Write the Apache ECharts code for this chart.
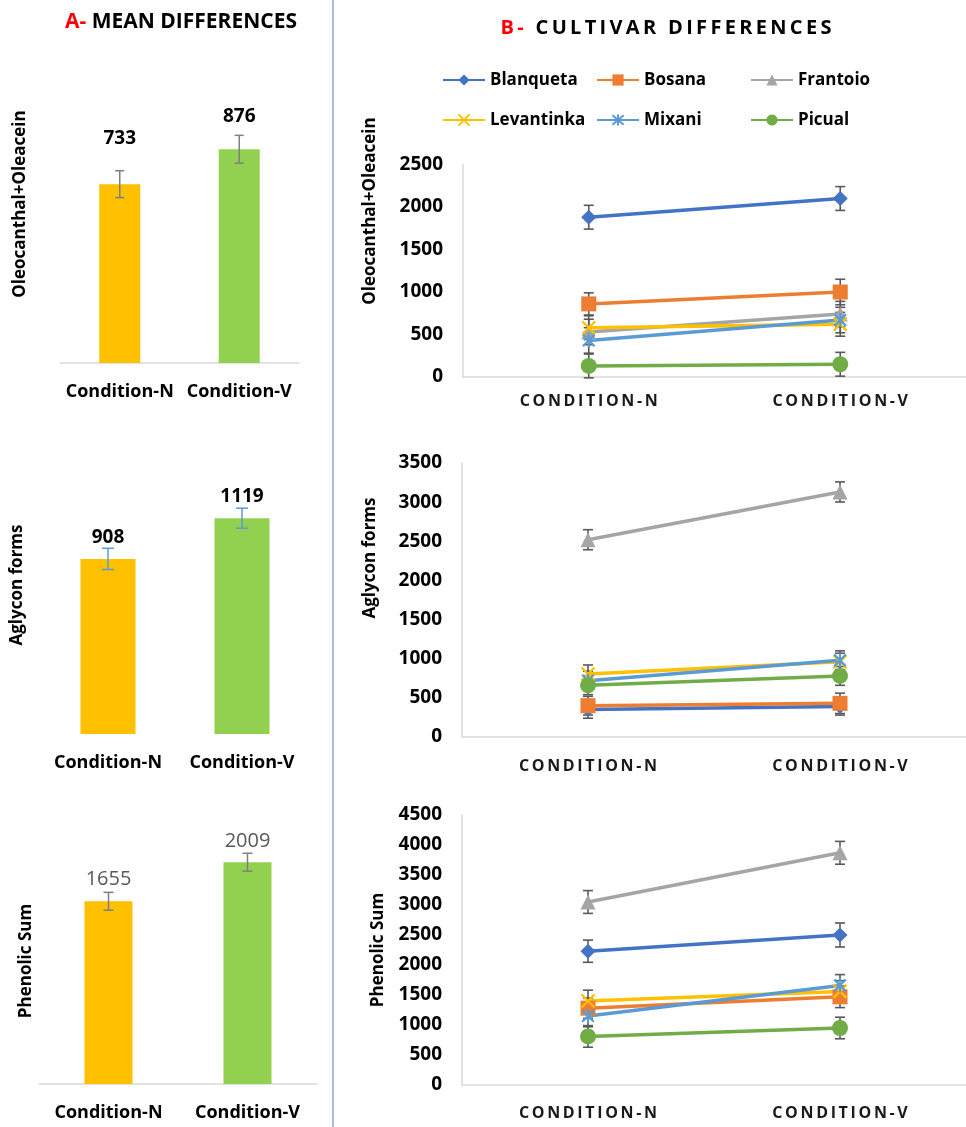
<!DOCTYPE html>
<html>
<head>
<meta charset="utf-8">
<script src="https://cdn.jsdelivr.net/npm/echarts@6/dist/echarts.min.js"></script>
<style>
  html, body { margin: 0; padding: 0; background: #ffffff; }
  #chart { width: 966px; height: 1127px; }
</style>
</head>
<body>
<div id="chart"></div>
<script>
// ---- data ----
const conditions = ['Condition-N', 'Condition-V'];
const cultivars = ['Blanqueta', 'Bosana', 'Frantoio', 'Levantinka', 'Mixani', 'Picual'];
const metricNames = ['Oleocanthal+Oleacein', 'Aglycon forms', 'Phenolic Sum'];

// means over all cultivars, with their error bars
const meanOleo = [733, 876];
const meanOleoErr = [55, 57];
const meanAgly = [908, 1119];
const meanAglyErr = [55, 52];
const meanPhen = [1655, 2009];
const meanPhenErr = [81, 81];

// per cultivar, rows in the order of `cultivars`, columns [N, V]
const oleoByCultivar = [[1880, 2100], [860, 1000], [530, 740], [580, 620], [430, 670], [130, 150]];
const oleoErrByCultivar = [[140, 140], [130, 150], [150, 150], [140, 140], [150, 150], [140, 140]];
const aglyByCultivar = [[350, 390], [400, 430], [2520, 3130], [805, 960], [720, 980], [660, 780]];
const aglyErrByCultivar = [[110, 110], [120, 130], [128, 128], [115, 110], [120, 120], [120, 120]];
const phenByCultivar = [[2230, 2500], [1280, 1470], [3050, 3870], [1400, 1560], [1150, 1660], [810, 950]];
const phenErrByCultivar = [[185, 200], [170, 180], [190, 190], [180, 180], [180, 180], [180, 180]];

// axis ranges of the cultivar panels
const cultivarAxisMax = [2500, 3500, 4500];
const cultivarAxisStep = 500;

// ---- styling ----
const FONT = '"Open Sans", "Noto Sans", sans-serif';
const BAR_COLORS = ['#FFC000', '#92D050'];
const LINE_COLORS = ['#4472C4', '#ED7D31', '#A5A5A5', '#FFC000', '#5B9BD5', '#70AD47'];
const X_PATH = 'path://M0,0L10,10M10,0L0,10';
const STAR_PATH = 'path://M0,0L10,10M10,0L0,10M5,-1L5,11';
const SYMBOLS = [
  { symbol: 'diamond', symbolSize: 15 },
  { symbol: 'rect', symbolSize: 15 },
  { symbol: 'triangle', symbolSize: 15 },
  { symbol: X_PATH, symbolSize: 13, stroke: true },
  { symbol: STAR_PATH, symbolSize: 14, stroke: true },
  { symbol: 'circle', symbolSize: 16 }
];

const spaced = s => s.split('').join('\u2009');

const chart = echarts.init(document.getElementById('chart'), null, { renderer: 'canvas' });

const grids = [
  { left: 60, top: 119, width: 239, height: 244 },
  { left: 41, top: 464, width: 268, height: 270 },
  { left: 39, top: 808, width: 278, height: 276 },
  { left: 463, top: 164.5, width: 512, height: 212.5 },
  { left: 462, top: 463, width: 512, height: 274 },
  { left: 462, top: 815, width: 512, height: 270 }
];

const meanSets = [
  { values: meanOleo, errs: meanOleoErr, max: 1000, barWidth: 41, showLine: true,
    errColor: '#7F7F7F', cap: 4.5, labelGap: [36, 23],
    label: { fontSize: 19, fontWeight: 'bold', color: '#000' } },
  { values: meanAgly, errs: meanAglyErr, max: 1400, barWidth: 55, showLine: false,
    errColor: '#5B9BD5', cap: 6, labelGap: [12, 12],
    label: { fontSize: 19, fontWeight: 'bold', color: '#000' } },
  { values: meanPhen, errs: meanPhenErr, max: 2500, barWidth: 48, showLine: true,
    errColor: '#7F7F7F', cap: 5, labelGap: [12, 11],
    label: { fontSize: 20, fontWeight: 'normal', color: '#595959' } }
];

const cultivarSets = [
  { values: oleoByCultivar, errs: oleoErrByCultivar, labelMargin: 16 },
  { values: aglyByCultivar, errs: aglyErrByCultivar, labelMargin: 21 },
  { values: phenByCultivar, errs: phenErrByCultivar, labelMargin: 20 }
];

function errorBars(axisIndex, values, errs, color, capHalf, width, z) {
  return {
    type: 'custom',
    xAxisIndex: axisIndex,
    yAxisIndex: axisIndex,
    silent: true,
    z: z,
    data: values.map((v, i) => [i, v - errs[i], v + errs[i]]),
    encode: { x: 0, y: [1, 2] },
    renderItem(params, api) {
      const i = api.value(0);
      const lo = api.coord([i, api.value(1)]);
      const hi = api.coord([i, api.value(2)]);
      const st = { stroke: color, lineWidth: width };
      return {
        type: 'group',
        children: [
          { type: 'line', shape: { x1: lo[0], y1: lo[1], x2: hi[0], y2: hi[1] }, style: st },
          { type: 'line', shape: { x1: lo[0] - capHalf, y1: lo[1], x2: lo[0] + capHalf, y2: lo[1] }, style: st },
          { type: 'line', shape: { x1: hi[0] - capHalf, y1: hi[1], x2: hi[0] + capHalf, y2: hi[1] }, style: st }
        ]
      };
    }
  };
}

const xAxes = [];
const yAxes = [];
const series = [];

// left column: mean bars
meanSets.forEach((m, k) => {
  xAxes.push({
    type: 'category', gridIndex: k, data: conditions,
    axisLine: { show: m.showLine, lineStyle: { color: '#D9D9D9', width: 1.5 } },
    axisTick: { show: false },
    axisLabel: {
      interval: 0, hideOverlap: false, margin: 20,
      fontFamily: FONT, fontSize: 18, fontWeight: 'bold', color: '#000'
    }
  });
  yAxes.push({ type: 'value', gridIndex: k, min: 0, max: m.max, show: false, splitLine: { show: false } });
  series.push({
    type: 'bar', xAxisIndex: k, yAxisIndex: k, barWidth: m.barWidth, z: 2,
    data: m.values.map((v, i) => ({
      value: v,
      itemStyle: { color: BAR_COLORS[i] },
      label: { distance: m.labelGap[i] }
    })),
    label: Object.assign({ show: true, position: 'top', fontFamily: FONT }, m.label)
  });
  series.push(errorBars(k, m.values, m.errs, m.errColor, m.cap, 1.5, 3));
});

// right column: cultivar lines
cultivarSets.forEach((c, p) => {
  const ax = p + 3;
  xAxes.push({
    type: 'category', gridIndex: ax, data: conditions,
    axisLine: { show: true, lineStyle: { color: '#D9D9D9', width: 1.5 } },
    axisTick: { show: false },
    axisLabel: {
      interval: 0, margin: c.labelMargin,
      fontFamily: FONT, fontSize: 16, fontWeight: 'bold', color: '#1a1a1a',
      formatter: v => spaced(v.toUpperCase())
    }
  });
  yAxes.push({
    type: 'value', gridIndex: ax, min: 0, max: cultivarAxisMax[p], interval: cultivarAxisStep,
    splitLine: { show: false },
    axisLine: { show: true, lineStyle: { color: '#D9D9D9', width: 1.5 } },
    axisTick: { show: false },
    axisLabel: {
      margin: 20, fontFamily: FONT, fontSize: 19, fontWeight: 'bold', color: '#000',
      formatter: v => String(v)
    }
  });
  cultivars.forEach((name, ci) => {
    const sym = SYMBOLS[ci];
    const itemStyle = { color: LINE_COLORS[ci] };
    if (sym.stroke) {
      itemStyle.borderColor = LINE_COLORS[ci];
      itemStyle.borderWidth = 2.2;
    }
    series.push({
      type: 'line', name: name, xAxisIndex: ax, yAxisIndex: ax, z: 4,
      data: c.values[ci],
      symbol: sym.symbol, symbolSize: sym.symbolSize, symbolKeepAspect: true,
      showAllSymbol: true,
      lineStyle: { color: LINE_COLORS[ci], width: 3.5 },
      itemStyle: itemStyle
    });
  });
});
cultivarSets.forEach((c, p) => {
  cultivars.forEach((name, ci) => {
    series.push(errorBars(p + 3, c.values[ci], c.errs[ci], '#595959', 5, 1.6, 3));
  });
});

// legends laid out as three columns of two entries
const legendColumns = [[0, 3], [1, 4], [2, 5]];
const legendLeft = [442, 596, 750];
const legends = legendColumns.map((col, j) => ({
  orient: 'vertical',
  left: legendLeft[j],
  top: 70,
  itemWidth: 42,
  itemHeight: 14,
  itemGap: 20,
  padding: 0,
  data: col.map(i => cultivars[i]),
  textStyle: { fontFamily: FONT, fontSize: 17, fontWeight: 'bold', color: '#000', lineHeight: 20, padding: [0, 0, 0, 0] }
}));

// axis titles and headings
const axisTitlePos = [[20, 204], [17, 585], [26, 961], [370, 211], [370, 558], [378, 950]];
const axisTitles = axisTitlePos.map((pos, i) => ({
  type: 'text',
  x: pos[0], y: pos[1], rotation: Math.PI / 2,
  style: {
    text: metricNames[i % 3], align: 'center', verticalAlign: 'middle',
    font: 'bold 17px ' + FONT, fill: '#000'
  }
}));

const option = {
  animation: false,
  grid: grids.map(g => Object.assign({ containLabel: false }, g)),
  xAxis: xAxes,
  yAxis: yAxes,
  legend: legends,
  series: series,
  graphic: [
    {
      type: 'line', shape: { x1: 333, y1: 0, x2: 333, y2: 1127 },
      style: { stroke: '#8FAADC', lineWidth: 1.5 }, z: 0
    },
    {
      type: 'text', x: 181, y: 22,
      style: {
        text: '{r|A-} MEAN DIFFERENCES', align: 'center', verticalAlign: 'middle',
        font: 'bold 21px ' + FONT, fill: '#000',
        rich: { r: { fill: '#FF0000', font: 'bold 21px ' + FONT } }
      }
    },
    {
      type: 'text', x: 666, y: 28,
      style: {
        text: '{r|' + spaced('B-') + '}\u2009 \u2009' + spaced('CULTIVAR DIFFERENCES'),
        align: 'center', verticalAlign: 'middle',
        font: 'bold 20px ' + FONT, fill: '#000',
        rich: { r: { fill: '#FF0000', font: 'bold 20px ' + FONT } }
      }
    }
  ].concat(axisTitles)
};

chart.setOption(option);
</script>
</body>
</html>
